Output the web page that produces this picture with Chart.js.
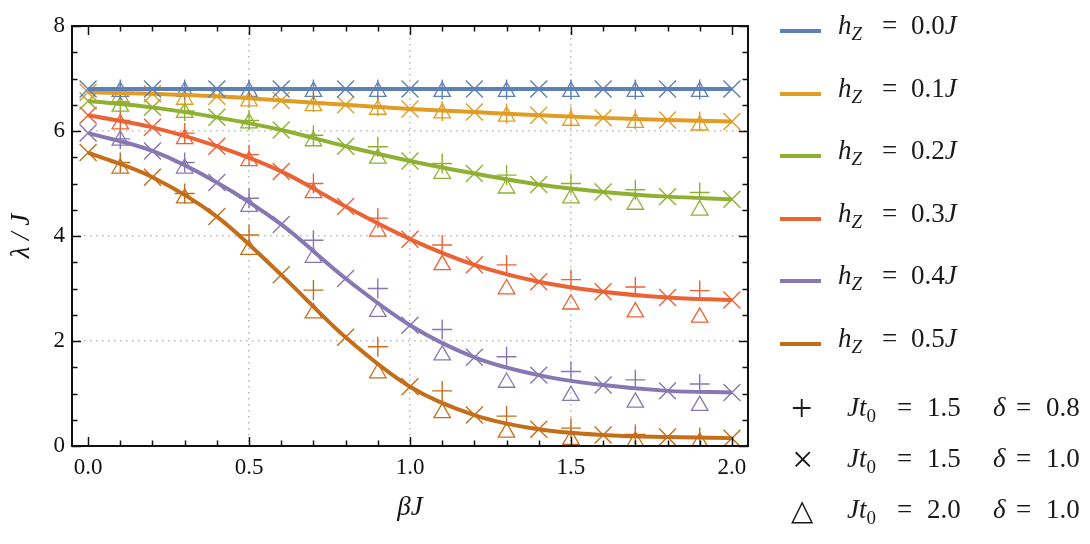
<!DOCTYPE html>
<html><head><meta charset="utf-8">
<script src="https://cdn.jsdelivr.net/npm/chart.js@4.4.1/dist/chart.umd.min.js"></script>
<style>
html,body{margin:0;padding:0;background:#fff;}
#wrap{position:relative;width:1090px;height:544px;overflow:hidden;}
canvas{position:absolute;left:0;top:0;}
.t{position:absolute;font-family:"Liberation Serif",serif;font-size:27px;color:#1a1a1a;white-space:nowrap;line-height:27px;}
.it{font-style:italic;}
.sub{font-size:19px;position:relative;top:6px;}
.sym{font-size:38px;line-height:38px;font-weight:normal;}
.tri{font-size:29px;line-height:29px;font-weight:normal;}
.sw{position:absolute;width:41px;height:4px;}
</style></head>
<body><div id="wrap"><canvas id="c" width="1090" height="544"></canvas><div id="legend"></div></div>
<script>
// ---- data ----
const xEven = [0.0, 0.2, 0.4, 0.6, 0.8, 1.0, 1.2, 1.4, 1.6, 1.8, 2.0];
const xOdd  = [0.1, 0.3, 0.5, 0.7, 0.9, 1.1, 1.3, 1.5, 1.7, 1.9];
const hzLabels = ['0.0', '0.1', '0.2', '0.3', '0.4', '0.5'];
const colors = ['#5E81B5', '#E19C24', '#8FB032', '#EB6235', '#8778B3', '#C56E1A'];

// Jt0 = 1.5, delta = 1.0 (x markers, with the curve)
const cross_hz00 = [6.80, 6.80, 6.80, 6.80, 6.80, 6.80, 6.80, 6.80, 6.80, 6.80, 6.80];
const cross_hz01 = [6.74, 6.71, 6.66, 6.58, 6.50, 6.42, 6.36, 6.30, 6.25, 6.21, 6.18];
const cross_hz02 = [6.57, 6.45, 6.26, 6.02, 5.71, 5.43, 5.19, 4.98, 4.84, 4.75, 4.70];
const cross_hz03 = [6.30, 6.07, 5.71, 5.23, 4.56, 3.94, 3.45, 3.13, 2.94, 2.83, 2.78];
const cross_hz04 = [5.96, 5.62, 5.02, 4.22, 3.19, 2.30, 1.69, 1.35, 1.16, 1.05, 1.02];
const cross_hz05 = [5.59, 5.12, 4.37, 3.26, 2.07, 1.13, 0.59, 0.32, 0.21, 0.17, 0.15];

// Jt0 = 1.5, delta = 0.8 (+ markers)
const plus_hz00 = [6.79, 6.79, 6.79, 6.79, 6.79, 6.79, 6.79, 6.79, 6.79, 6.79];
const plus_hz01 = [6.73, 6.69, 6.63, 6.55, 6.47, 6.38, 6.33, 6.27, 6.22, 6.18];
const plus_hz02 = [6.55, 6.38, 6.20, 5.92, 5.70, 5.38, 5.16, 5.00, 4.88, 4.83];
const plus_hz03 = [6.20, 5.96, 5.55, 5.00, 4.34, 3.83, 3.45, 3.17, 3.03, 2.96];
const plus_hz04 = [5.85, 5.40, 4.72, 3.92, 3.00, 2.22, 1.70, 1.42, 1.26, 1.18];
const plus_hz05 = [5.40, 4.81, 4.02, 2.97, 1.89, 1.05, 0.57, 0.34, 0.22, 0.16];

// Jt0 = 2.0, delta = 1.0 (triangle markers)
const tri_hz00 = [6.75, 6.75, 6.75, 6.75, 6.75, 6.75, 6.75, 6.75, 6.75, 6.75];
const tri_hz01 = [6.65, 6.60, 6.57, 6.48, 6.41, 6.34, 6.28, 6.20, 6.16, 6.11];
const tri_hz02 = [6.47, 6.35, 6.15, 5.81, 5.48, 5.19, 4.91, 4.72, 4.60, 4.49];
const tri_hz03 = [6.13, 5.85, 5.43, 4.82, 4.09, 3.45, 2.99, 2.70, 2.55, 2.45];
const tri_hz04 = [5.82, 5.29, 4.56, 3.59, 2.56, 1.73, 1.21, 0.96, 0.83, 0.77];
const tri_hz05 = [5.29, 4.72, 3.74, 2.53, 1.39, 0.63, 0.26, 0.12, 0.09, 0.07];

const xTicks = [0.0,0.1,0.2,0.3,0.4,0.5,0.6,0.7,0.8,0.9,1.0,1.1,1.2,1.3,1.4,1.5,1.6,1.7,1.8,1.9,2.0];
const xMajor = [0.0, 0.5, 1.0, 1.5, 2.0];
const yTicks = [0,0.5,1,1.5,2,2.5,3,3.5,4,4.5,5,5.5,6,6.5,7,7.5,8];
const yMajor = [0, 2, 4, 6, 8];

const crossSets = [cross_hz00, cross_hz01, cross_hz02, cross_hz03, cross_hz04, cross_hz05];
const plusSets = [plus_hz00, plus_hz01, plus_hz02, plus_hz03, plus_hz04, plus_hz05];
const triSets = [tri_hz00, tri_hz01, tri_hz02, tri_hz03, tri_hz04, tri_hz05];

const pts = (xs, ys) => xs.map((x, i) => ({x: x, y: ys[i]}));
const isMajor = (arr, v) => arr.some(m => Math.abs(m - v) < 1e-9);

const datasets = [];
for (let i = 0; i < 6; i++) {
  datasets.push({
    type: 'scatter', data: pts(xOdd, triSets[i]), showLine: false,
    pointStyle: 'triangle', pointRadius: 9.5, pointBorderWidth: 1.3,
    borderColor: colors[i], backgroundColor: 'rgba(0,0,0,0)', order: 3
  });
  datasets.push({
    type: 'scatter', data: pts(xOdd, plusSets[i]), showLine: false,
    pointStyle: 'cross', pointRadius: 10, pointBorderWidth: 1.4,
    borderColor: colors[i], backgroundColor: colors[i], order: 2
  });
}
for (let i = 0; i < 6; i++) {
  datasets.push({
    type: 'line', data: pts(xEven, crossSets[i]), showLine: true,
    borderColor: colors[i], borderWidth: 4, cubicInterpolationMode: 'monotone',
    pointStyle: 'crossRot', pointRadius: 12, pointBorderWidth: 1.4,
    pointBorderColor: colors[i], pointBackgroundColor: colors[i], fill: false, order: 1
  });
}

const frameTicks = {
  id: 'frameTicks',
  afterDatasetsDraw(chart) {
    const ctx = chart.ctx, a = chart.chartArea, xs = chart.scales.x, ys = chart.scales.y;
    ctx.save();
    ctx.strokeStyle = '#111';
    ctx.lineWidth = 1.5;
    ctx.beginPath();
    xTicks.forEach(v => {
      const p = Math.round(xs.getPixelForValue(v)) + 0.5;
      const L = isMajor(xMajor, v) ? 9 : 5.5;
      ctx.moveTo(p, a.bottom); ctx.lineTo(p, a.bottom - L);
      ctx.moveTo(p, a.top); ctx.lineTo(p, a.top + L);
    });
    yTicks.forEach(v => {
      const p = Math.round(ys.getPixelForValue(v)) + 0.5;
      const L = isMajor(yMajor, v) ? 9 : 5.5;
      ctx.moveTo(a.left, p); ctx.lineTo(a.left + L, p);
      ctx.moveTo(a.right, p); ctx.lineTo(a.right - L, p);
    });
    ctx.stroke();
    ctx.lineWidth = 2;
    ctx.strokeRect(a.left, a.top, a.right - a.left, a.bottom - a.top);
    ctx.restore();
  }
};

const tickFont = {family: '"Liberation Serif", serif', size: 23};
new Chart(document.getElementById('c'), {
  type: 'scatter',
  data: {datasets: datasets},
  options: {
    responsive: false, animation: false, devicePixelRatio: 1,
    layout: {padding: {left: 0, top: 26, right: 342, bottom: 20}},
    plugins: {legend: {display: false}, tooltip: {enabled: false}},
    scales: {
      x: {
        type: 'linear', min: -0.05, max: 2.05,
        afterBuildTicks: s => { s.ticks = xTicks.map(v => ({value: v})); },
        afterFit: s => { s.height = 78; },
        ticks: {
          autoSkip: false, maxRotation: 0, padding: 8, color: '#111', font: tickFont,
          callback: v => isMajor(xMajor, v) ? v.toFixed(1) : ''
        },
        grid: {
          drawTicks: false, lineWidth: 1.5,
          color: c => (c.tick && isMajor([0.5, 1.0, 1.5], c.tick.value)) ? '#b8b8b8' : 'rgba(0,0,0,0)'
        },
        border: {display: false, dash: [1.5, 4.5]},
        title: {display: true, text: 'βJ', color: '#111', padding: {top: 0, bottom: 0},
          font: {family: '"Liberation Serif", serif', size: 27, style: 'italic'}}
      },
      y: {
        type: 'linear', min: 0, max: 8,
        afterBuildTicks: s => { s.ticks = yTicks.map(v => ({value: v})); },
        afterFit: s => { s.width = 72; },
        ticks: {
          autoSkip: false, padding: 7, color: '#111', font: tickFont,
          callback: v => isMajor(yMajor, v) ? String(v) : ''
        },
        grid: {
          drawTicks: false, lineWidth: 1.5,
          color: c => (c.tick && isMajor([2, 4, 6], c.tick.value)) ? '#b8b8b8' : 'rgba(0,0,0,0)'
        },
        border: {display: false, dash: [1.5, 4.5]},
        title: {display: true, text: 'λ / J', color: '#111', padding: {top: 6, bottom: 0},
          font: {family: '"Liberation Serif", serif', size: 27, style: 'italic'}}
      }
    }
  },
  plugins: [frameTicks]
});

// ---- legend (HTML text) ----
const leg = document.getElementById('legend');
function put(html, left, top, cls) {
  const d = document.createElement('div');
  d.className = 't' + (cls ? ' ' + cls : '');
  d.style.left = left + 'px'; d.style.top = top + 'px';
  d.innerHTML = html;
  leg.appendChild(d);
}
hzLabels.forEach((lab, i) => {
  const cy = 31 + i * 62.5;
  const sw = document.createElement('div');
  sw.className = 'sw';
  sw.style.left = '780px'; sw.style.top = (cy - 2) + 'px'; sw.style.background = colors[i];
  leg.appendChild(sw);
  const top = cy - 19;
  put('<span class="it">h</span><span class="sub it">Z</span>', 838, top);
  put('=', 882, top);
  put(lab + '<span class="it">J</span>', 911, top);
});
const mk = [
  {sym: '+', t: '1.5', d: '0.8', top: 394, sx: 791, sy: 389, cls: 'sym'},
  {sym: '×', t: '1.5', d: '1.0', top: 445, sx: 792, sy: 440, cls: 'sym'},
  {sym: '△', t: '2.0', d: '1.0', top: 496, sx: 791, sy: 496, cls: 'tri'}
];
mk.forEach(m => {
  put(m.sym, m.sx, m.sy, m.cls);
  put('<span class="it">Jt</span><span class="sub">0</span>', 847, m.top);
  put('=', 897, m.top);
  put(m.t, 927, m.top);
  put('<span class="it">δ</span>', 993, m.top);
  put('=', 1016, m.top);
  put(m.d, 1046, m.top);
});
</script>
</body></html>
